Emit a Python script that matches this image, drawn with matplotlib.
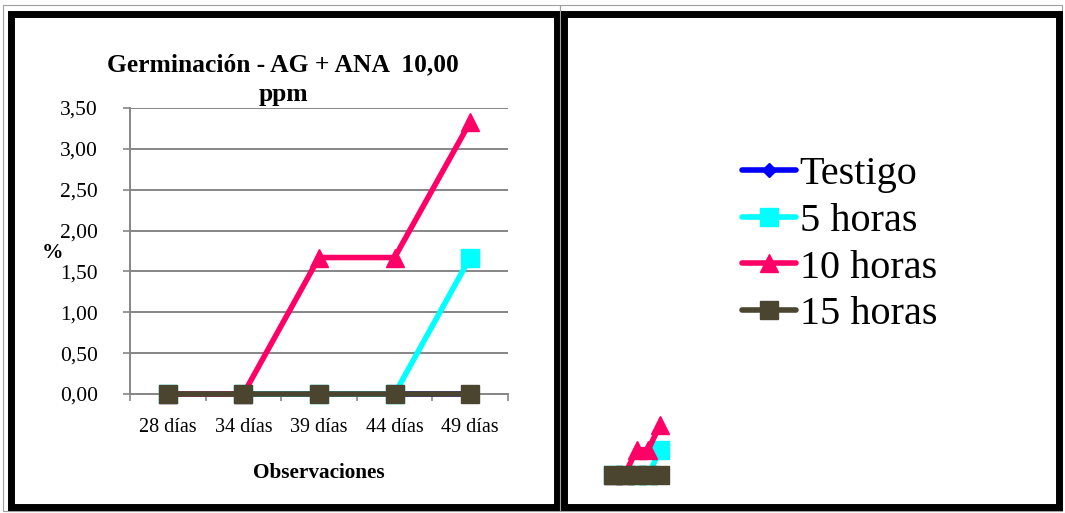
import matplotlib.pyplot as plt
from matplotlib.patches import Rectangle
from matplotlib.ticker import FuncFormatter

plt.rcParams['font.family'] = ['Liberation Serif', 'DejaVu Serif']

W, H = 1065, 513

dias = ['28 días', '34 días', '39 días', '44 días', '49 días']
testigo = [0.0, 0.0, 0.0, 0.0, 0.0]
horas_5 = [0.0, 0.0, 0.0, 0.0, 1.67]
horas_10 = [0.0, 0.0, 1.67, 1.67, 3.33]
horas_15 = [0.0, 0.0, 0.0, 0.0, 0.0]

series = [
    ('Testigo', testigo, '#0000FF', 'D', 7),
    ('5 horas', horas_5, '#00FFFF', 's', 13),
    ('10 horas', horas_10, '#FF0066', '^', 13),
    ('15 horas', horas_15, '#4B4530', 's', 13.5),
]
GRIS = '#868686'


def px_box(x0, y0, x1, y1):
    """caja en pixeles (origen arriba) -> fraccion de figura"""
    return [x0 / W, 1 - y1 / H, (x1 - x0) / W, (y1 - y0) / H]


def marco(fig, x0, y0, x1, y1, lw, color):
    fig.patches.append(Rectangle((x0 / W, 1 - y1 / H), (x1 - x0) / W, (y1 - y0) / H,
                                 transform=fig.transFigure, fill=False,
                                 edgecolor=color, linewidth=lw, zorder=10))


def dibujar(ax):
    lineas = []
    x = list(range(len(dias)))
    for nombre, vals, col, mk, ms in series:
        ln, = ax.plot(x, vals, color=col, lw=4, marker=mk, ms=ms,
                      markerfacecolor=col, markeredgecolor=col, label=nombre,
                      clip_on=False, solid_capstyle='round', zorder=3)
        lineas.append(ln)
    return lineas


fig = plt.figure(figsize=(W / 100, H / 100), dpi=100)

# grafico principal
ax = fig.add_axes(px_box(130, 108, 508, 394))
lineas = dibujar(ax)
ax.set_xlim(-0.5, 4.5)
ax.set_ylim(0, 3.5)
ax.set_yticks([0, 0.5, 1, 1.5, 2, 2.5, 3, 3.5])
ax.yaxis.set_major_formatter(FuncFormatter(lambda v, p: f'{v:.2f}'.replace('.', ',')))
ax.set_xticks(range(len(dias)))
ax.set_xticklabels(dias)
ax.set_xticks([i - 0.5 for i in range(len(dias) + 1)], minor=True)
ax.tick_params(axis='x', which='major', length=0, pad=17, labelsize=14.5)
ax.tick_params(axis='x', which='minor', length=5, color=GRIS, width=1.2, direction='out')
ax.tick_params(axis='y', length=5, color=GRIS, width=1.2, pad=18, labelsize=15.5)
ax.grid(axis='y', color=GRIS, lw=1.4)
ax.set_axisbelow(True)
for s in ['top', 'right']:
    ax.spines[s].set_visible(False)
for s in ['left', 'bottom']:
    ax.spines[s].set_color(GRIS)
    ax.spines[s].set_linewidth(1.4)
    ax.spines[s].set_zorder(1)

fig.text(283 / W, 1 - 80 / H, 'Germinación - AG + ANA  10,00\nppm', ha='center', va='center',
         fontsize=18.4, fontweight='bold', linespacing=1.36)
fig.text(319 / W, 1 - 473 / H, 'Observaciones', ha='center', va='center',
         fontsize=15.3, fontweight='bold')
fig.text(52 / W, 1 - 253 / H, '%', ha='center', va='center', fontsize=15.5, fontweight='bold')

# leyenda
fig.legend(handles=lineas, loc='center left', bbox_to_anchor=(742 / W, 1 - 244.5 / H),
           frameon=False, fontsize=29, handlelength=1.35, handletextpad=0.08,
           labelspacing=0.24, borderpad=0, borderaxespad=0)

# grafico miniatura
mini = fig.add_axes(px_box(607, 422, 666, 475))
dibujar(mini)
mini.set_xlim(-0.5, 4.5)
mini.set_ylim(0, 3.5)
mini.axis('off')

# marcos
marco(fig, 3, 5, 560, 511, 0.8, '#A0A0A0')
marco(fig, 10.5, 13.5, 556.5, 506.5, 5, 'black')
marco(fig, 560, 5, 1062, 511, 0.8, '#A0A0A0')
marco(fig, 563.5, 13.5, 1058.5, 506.5, 5, 'black')

fig.savefig('out.png', dpi=100, facecolor='white')
